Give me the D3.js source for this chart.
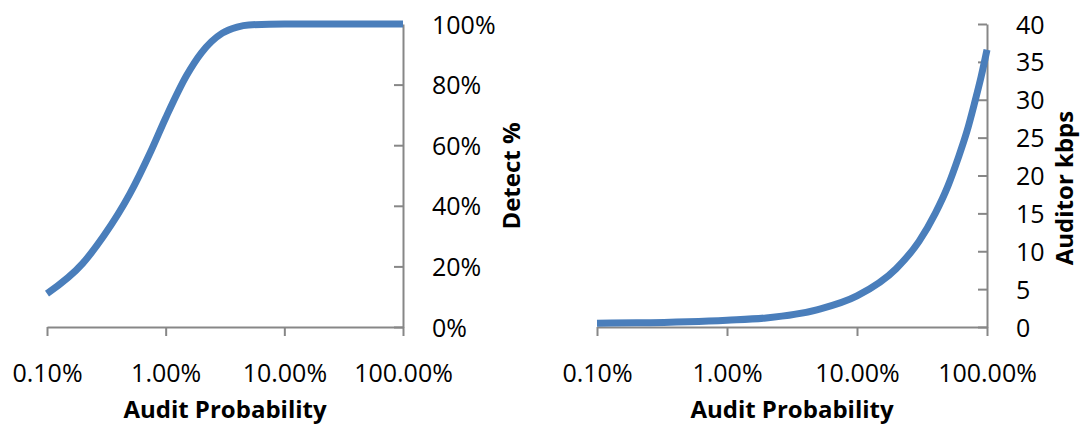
<!DOCTYPE html>
<html>
<head>
<meta charset="utf-8">
<script src="https://cdn.jsdelivr.net/npm/d3@7"></script>
<style>
  body { margin: 0; background: #fff; }
  .tick text { font-family: "Open Sans", sans-serif; font-size: 25px; fill: #000; }
  .title { font-family: "Open Sans", sans-serif; font-size: 24px; font-weight: bold; fill: #000; }
</style>
</head>
<body>
<div id="chart"></div>
<script>
// audit probability (x) for both panels
var detectP = [0.001, 0.002, 0.003, 0.005, 0.0075, 0.01, 0.015, 0.02, 0.03, 0.04, 0.05, 0.1, 0.2, 0.5, 1.0];
var detectPct = [0.11, 0.21, 0.30, 0.44, 0.58, 0.69, 0.83, 0.905, 0.97, 0.99, 0.997, 1, 1, 1, 1];

var kbpsP = [0.001, 0.002, 0.005, 0.01, 0.02, 0.05, 0.1, 0.2, 0.3, 0.4, 0.5, 0.6, 0.7, 0.8, 0.9, 1.0];
var kbps = [0.5, 0.55, 0.7, 0.9, 1.2, 2.3, 4.1, 7.7, 11.3, 15, 18.6, 22.3, 25.8, 29.5, 33, 36.6];

var xTicks = [0.001, 0.01, 0.1, 1];
var xTickLabels = ["0.10%", "1.00%", "10.00%", "100.00%"];
var detectTicks = [0, 0.2, 0.4, 0.6, 0.8, 1];
var kbpsTicks = [0, 5, 10, 15, 20, 25, 30, 35, 40];

var axisColor = "#878787",
    lineColor = "#4a7ebb";

var svg = d3.select("#chart").append("svg")
    .attr("width", 1084)
    .attr("height", 427);

function panel(opts) {
  var x = d3.scaleLog().domain([0.001, 1]).range([opts.x0, opts.x1]);
  var y = d3.scaleLinear().domain(opts.yDomain).range([327, 24]);

  var g = svg.append("g");

  // x axis
  var xa = g.append("g")
      .attr("transform", "translate(0,327)")
      .call(d3.axisBottom(x)
        .tickValues(xTicks)
        .tickFormat(function(d, i) { return xTickLabels[i]; })
        .tickSize(9)
        .tickSizeOuter(0));

  // y axis sits at the right end, labels to the right, ticks inward
  var ya = g.append("g")
      .attr("transform", "translate(" + opts.x1 + ",0)")
      .call(d3.axisRight(y)
        .tickValues(opts.yTicks)
        .tickFormat(opts.yFormat)
        .tickSize(-9)
        .tickSizeOuter(0));

  [xa, ya].forEach(function(a) {
    a.select(".domain").attr("stroke", axisColor).attr("stroke-width", 2);
    a.selectAll(".tick line").attr("stroke", axisColor).attr("stroke-width", 2);
  });
  ya.selectAll(".tick text").attr("x", 29).attr("dy", "0.36em");
  xa.selectAll(".tick text").attr("y", 55).attr("dy", "0");

  var line = d3.line()
      .x(function(d) { return x(d[0]); })
      .y(function(d) { return y(d[1]); })
      .curve(d3.curveMonotoneX);

  g.append("path")
      .datum(d3.zip(opts.xs, opts.ys))
      .attr("fill", "none")
      .attr("stroke", lineColor)
      .attr("stroke-width", 7)
      .attr("d", line);

  g.append("text")
      .attr("class", "title")
      .attr("x", (opts.x0 + opts.x1) / 2)
      .attr("y", 418)
      .attr("text-anchor", "middle")
      .text("Audit Probability");

  g.append("text")
      .attr("class", "title")
      .attr("transform", "translate(" + opts.titleX + "," + opts.titleY + ") rotate(-90)")
      .attr("text-anchor", "middle")
      .text(opts.yTitle);
}

panel({
  x0: 47, x1: 403,
  yDomain: [0, 1], yTicks: detectTicks,
  yFormat: d3.format(".0%"),
  xs: detectP, ys: detectPct,
  yTitle: "Detect %", titleX: 520, titleY: 176
});

panel({
  x0: 597, x1: 987,
  yDomain: [0, 40], yTicks: kbpsTicks,
  yFormat: d3.format("d"),
  xs: kbpsP, ys: kbps,
  yTitle: "Auditor kbps", titleX: 1073, titleY: 188
});
</script>
</body>
</html>
